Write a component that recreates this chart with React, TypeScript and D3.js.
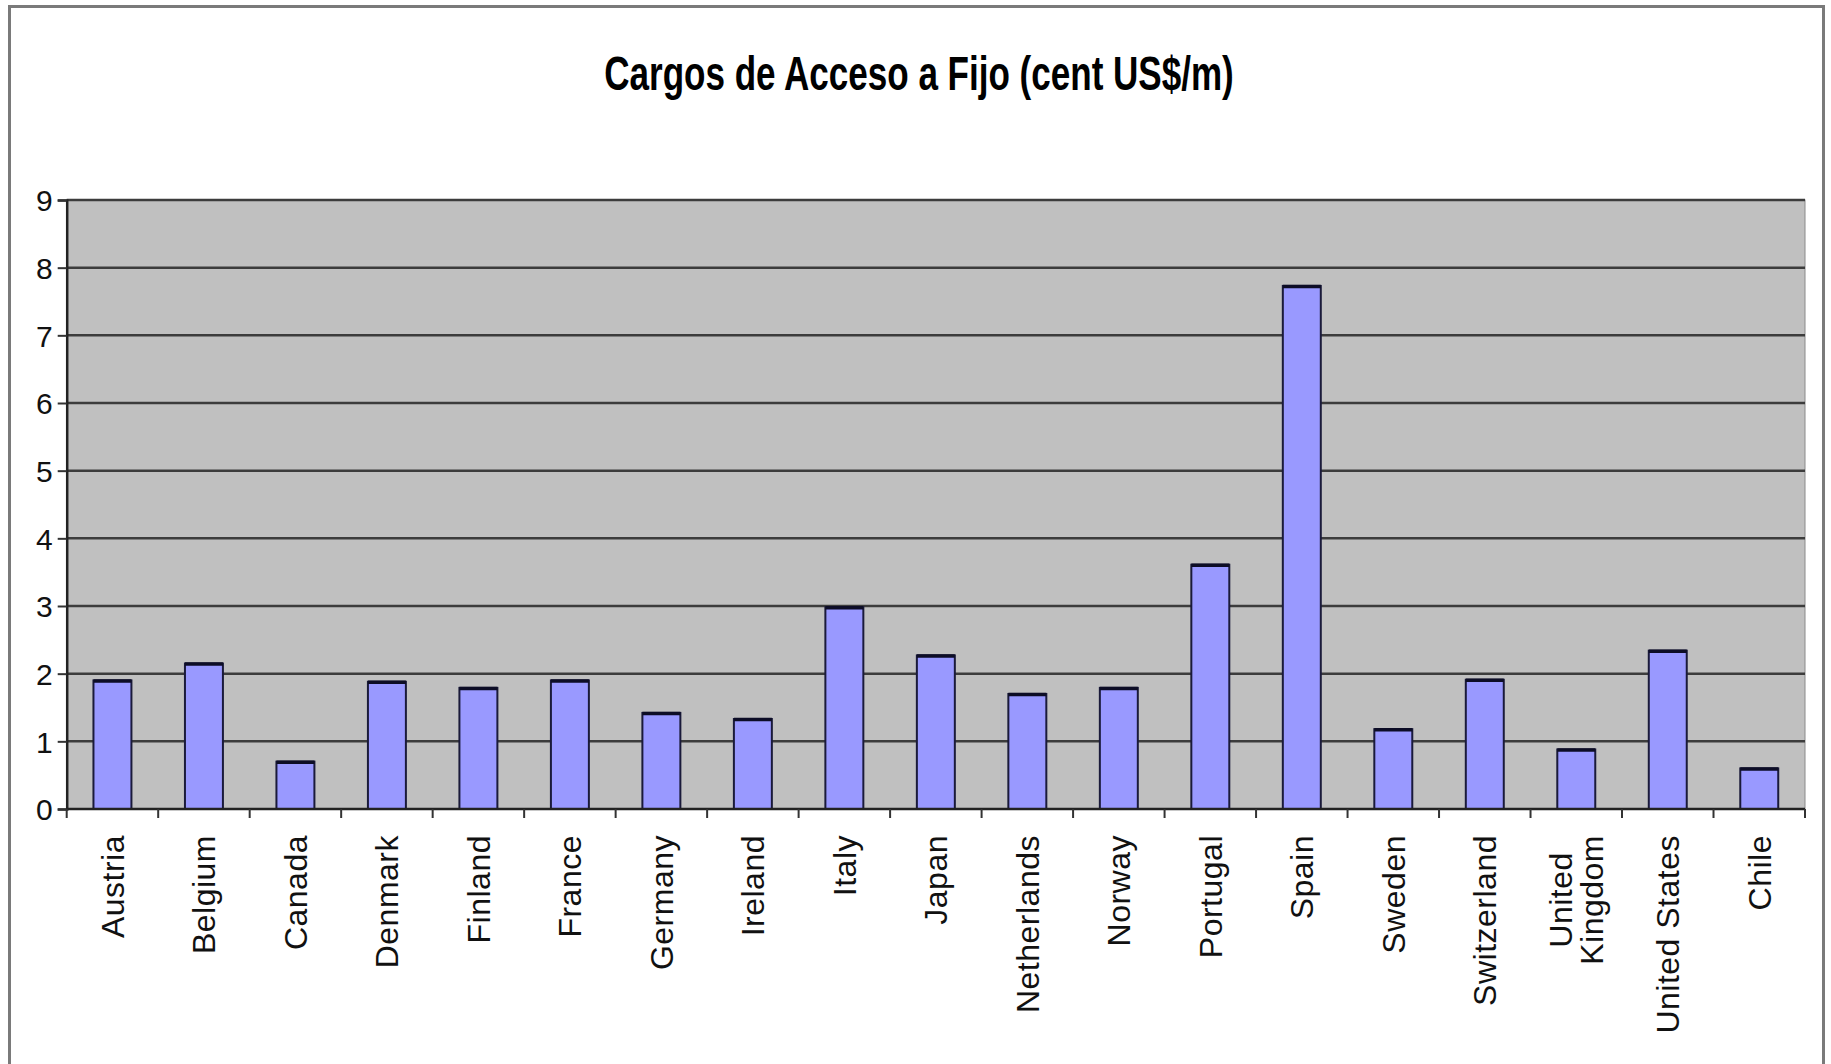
import React, { useEffect, useRef } from 'react';
import * as d3 from 'd3';

const countries = [
  'Austria', 'Belgium', 'Canada', 'Denmark', 'Finland', 'France', 'Germany',
  'Ireland', 'Italy', 'Japan', 'Netherlands', 'Norway', 'Portugal', 'Spain',
  'Sweden', 'Switzerland', 'United Kingdom', 'United States', 'Chile'
];
const tickLabels = [
  'Austria', 'Belgium', 'Canada', 'Denmark', 'Finland', 'France', 'Germany',
  'Ireland', 'Italy', 'Japan', 'Netherlands', 'Norway', 'Portugal', 'Spain',
  'Sweden', 'Switzerland', 'United\nKingdom', 'United States', 'Chile'
];
const charges = [
  1.9, 2.15, 0.7, 1.88, 1.79, 1.9, 1.42,
  1.33, 2.98, 2.27, 1.7, 1.79, 3.61, 7.73,
  1.18, 1.91, 0.88, 2.34, 0.6
];
const yTicks = [0, 1, 2, 3, 4, 5, 6, 7, 8, 9];
const title = 'Cargos de Acceso a Fijo (cent US$/m)';

const W = 1831;
const H = 1064;

const App = () => {
  const svgRef = useRef(null);

  useEffect(() => {
    const svg = d3.select(svgRef.current);
    svg.selectAll('*').remove();

    const left = 66.7, right = 1805, top = 200, bottom = 809;

    // outer chart border
    svg.append('rect')
      .attr('x', 9.5).attr('y', 6.5)
      .attr('width', 1814).attr('height', 1080)
      .attr('fill', '#fff')
      .attr('stroke', '#7a7a7a')
      .attr('stroke-width', 3);

    svg.append('g')
      .attr('transform', `translate(919,90) scale(0.73,1)`)
      .append('text')
      .attr('text-anchor', 'middle')
      .style('font-family', '"Liberation Sans", Arial, sans-serif')
      .style('font-weight', 'bold')
      .style('font-size', '48px')
      .attr('fill', '#000')
      .text(title);

    const y = d3.scaleLinear().domain([0, 9]).range([bottom, top]);
    const slot = d3.scaleBand().domain(countries).range([left, right]);
    const x = d3.scaleBand().domain(countries).range([left, right])
      .paddingInner(0.585).paddingOuter(0.2925);

    svg.append('rect')
      .attr('x', left).attr('y', top)
      .attr('width', right - left).attr('height', bottom - top)
      .attr('fill', '#c0c0c0')
      .attr('stroke', '#8a8a8a')
      .attr('stroke-width', 1);

    // gridlines
    svg.append('g')
      .selectAll('line')
      .data(yTicks.filter(d => d > 0))
      .enter()
      .append('line')
      .attr('x1', left).attr('x2', right)
      .attr('y1', d => y(d)).attr('y2', d => y(d))
      .attr('stroke', '#3c3c3c')
      .attr('stroke-width', 2.5);

    // bars
    const bars = svg.append('g');
    countries.forEach((c, i) => {
      bars.append('rect')
        .attr('x', x(c))
        .attr('y', y(charges[i]))
        .attr('width', x.bandwidth())
        .attr('height', y(0) - y(charges[i]))
        .attr('fill', '#9999ff')
        .attr('stroke', '#1a1a3a')
        .attr('stroke-width', 2);
      bars.append('line')
        .attr('x1', x(c)).attr('x2', x(c) + x.bandwidth())
        .attr('y1', y(charges[i]) + 0.5).attr('y2', y(charges[i]) + 0.5)
        .attr('stroke', '#0d0d26')
        .attr('stroke-width', 3.5);
    });

    // y axis
    const yAxis = svg.append('g')
      .attr('transform', `translate(${left},0)`)
      .call(d3.axisLeft(y).tickValues(yTicks).tickSize(9).tickFormat(d3.format('d')));
    yAxis.select('.domain').attr('stroke', '#222').attr('stroke-width', 2.5);
    yAxis.selectAll('.tick line').attr('stroke', '#333').attr('stroke-width', 2);
    yAxis.selectAll('.tick text')
      .attr('x', -14)
      .attr('dy', '0.36em')
      .attr('fill', '#111')
      .style('font-family', '"Liberation Sans", Arial, sans-serif')
      .style('font-size', '30px');

    // x axis: baseline and boundary ticks
    svg.append('line')
      .attr('x1', left).attr('x2', right)
      .attr('y1', bottom).attr('y2', bottom)
      .attr('stroke', '#222').attr('stroke-width', 2.5);
    const bounds = countries.map(c => slot(c)).concat([right]);
    svg.append('g')
      .selectAll('line')
      .data(bounds)
      .enter()
      .append('line')
      .attr('x1', d => d).attr('x2', d => d)
      .attr('y1', bottom).attr('y2', bottom + 9)
      .attr('stroke', '#333').attr('stroke-width', 2);

    // category labels, rotated
    const labelG = svg.append('g')
      .style('font-family', '"Liberation Sans", Arial, sans-serif')
      .style('font-size', '32px')
      .style('letter-spacing', '0.5px')
      .attr('fill', '#111');
    countries.forEach((c, i) => {
      const lines = tickLabels[i].split('\n');
      const cx = slot(c) + slot.bandwidth() / 2;
      const t = labelG.append('text')
        .attr('text-anchor', lines.length > 1 ? 'middle' : 'end')
        .attr('transform', `translate(${cx},835) rotate(-90)`);
      if (lines.length === 1) {
        t.attr('dy', '0.36em').text(lines[0]);
      } else {
        const lh = 31;
        lines.forEach((ln, k) => {
          t.append('tspan')
            .attr('x', 0)
            .attr('y', (k - (lines.length - 1) / 2) * lh)
            .attr('dy', '0.36em')
            .text(ln);
        });
        let maxLen = 0;
        t.selectAll('tspan').each(function () {
          maxLen = Math.max(maxLen, (this as SVGTextContentElement).getComputedTextLength());
        });
        t.attr('transform', `translate(${cx},${835 + maxLen / 2}) rotate(-90)`);
      }
    });
  }, []);

  return (
    <svg
      ref={svgRef}
      width={W}
      height={H}
      style={{ position: 'absolute', left: 0, top: 0, display: 'block', background: '#fff' }}
    />
  );
};

export default App;
